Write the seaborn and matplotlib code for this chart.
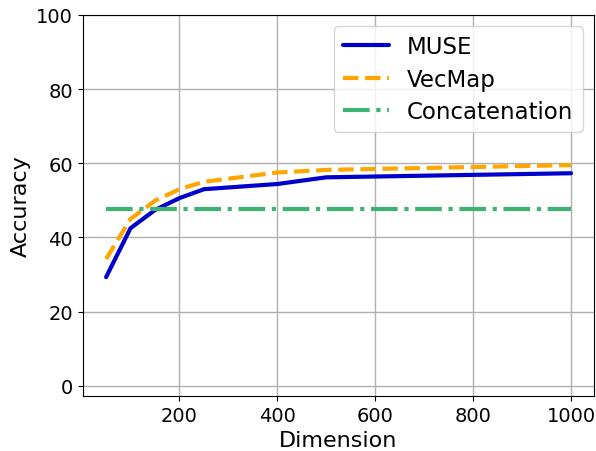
import numpy as np
import pandas as pd
import seaborn as sns
import matplotlib.pyplot as plt

# values
dims = [50, 100, 150, 200, 250, 400, 500, 1000]
muse = [29.3, 42.5, 47.4, 50.6, 53.0, 54.4, 56.2, 57.3]
vecmap = [34.2, 45.0, 49.9, 53.0, 55.0, 57.5, 58.2, 59.5]
concat = [47.7] * len(dims)

df = pd.DataFrame({"Dimension": dims, "MUSE": muse, "VecMap": vecmap, "Concatenation": concat})

sns.set_style("ticks")
plt.rcParams['font.family'] = ['DejaVu Sans']
plt.rcParams['text.color'] = 'black'
plt.rcParams['axes.labelcolor'] = 'black'

fig = plt.figure(figsize=(5.96, 4.52), dpi=100)
ax = fig.add_axes([0.139, 0.122, 0.858, 0.843])

sns.lineplot(data=df, x="Dimension", y="MUSE", ax=ax, color="mediumblue", lw=3, label="MUSE")
sns.lineplot(data=df, x="Dimension", y="VecMap", ax=ax, color="orange", lw=3, ls="--", label="VecMap")
sns.lineplot(data=df, x="Dimension", y="Concatenation", ax=ax, color="mediumseagreen", lw=3, ls="-.", label="Concatenation")

ax.set_ylim(-2.7, 100)
ax.set_xticks([200, 400, 600, 800, 1000])
ax.set_yticks([0, 20, 40, 60, 80, 100])
ax.grid(True, color="#b0b0b0", lw=1)
for s in ax.spines.values():
    s.set_color("black")
ax.tick_params(labelsize=14, colors="black")
ax.set_xlabel("Dimension", fontsize=16)
ax.set_ylabel("Accuracy", fontsize=16)
ax.legend(loc="upper right", fontsize=16.5, framealpha=0.8, labelspacing=0.4)

plt.savefig("out.png")
